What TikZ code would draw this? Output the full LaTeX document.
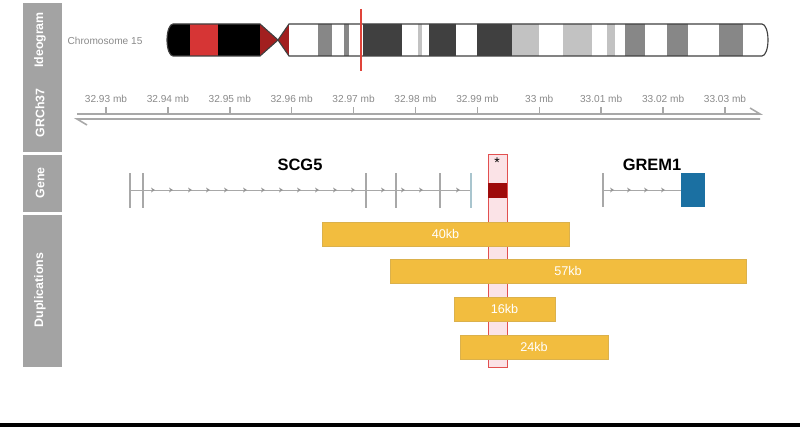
\documentclass[tikz,border=0pt]{standalone}
\usepackage{fontspec}
\setmainfont{Liberation Sans}
\usetikzlibrary{positioning}
\usepackage{xcolor}
\definecolor{panelgrey}{HTML}{A3A3A3}
\definecolor{axisgrey}{HTML}{A8A8A8}
\definecolor{textgrey}{HTML}{8A8A8A}
\definecolor{bandred}{HTML}{D63535}
\definecolor{cenred}{HTML}{A21F1F}
\definecolor{banddark}{HTML}{404040}
\definecolor{bandmid}{HTML}{878787}
\definecolor{bandlight}{HTML}{C2C2C2}
\definecolor{markred}{HTML}{E0443A}
\definecolor{hlpink}{HTML}{FBE3E7}
\definecolor{hlred}{HTML}{E25050}
\definecolor{exonred}{HTML}{9E0B0B}
\definecolor{gremblue}{HTML}{1B70A2}
\definecolor{lastexon}{HTML}{A9C5CE}
\definecolor{dupgold}{HTML}{F2BD3F}

\def\chrpath{(173,24) -- (260,24) -- (278,40) -- (260,56) -- (173,56)
  arc[start angle=90, end angle=270, x radius=6, y radius=16] -- cycle
  (289,24) -- (762,24) arc[start angle=-90, end angle=90, x radius=6, y radius=16]
  -- (289,56) -- (278,40) -- cycle}

\begin{document}
\begin{tikzpicture}[
        x=0.025cm, y=-0.025cm,
        panel/.style={fill=panelgrey, draw=none},
        panellbl/.style={rotate=90, text=white, inner sep=0pt,
          font=\fontsize{8.8}{10}\selectfont\bfseries},
        ticklbl/.style={text=textgrey, inner sep=0pt, font=\fontsize{7.2}{8}\selectfont},
        tickmk/.style={draw=axisgrey, line width=1.1pt},
        axisln/.style={draw=axisgrey, line width=1.1pt},
        intron/.style={draw=axisgrey, line width=0.6pt},
        chev/.style={fill=axisgrey!90!black, draw=none},
        exon/.style={draw=axisgrey, line width=2pt},
        genelbl/.style={inner sep=0pt, font=\fontsize{11.7}{13}\selectfont\bfseries},
        dup/.style={fill=dupgold, draw=dupgold!80!gray, line width=0.4pt},
        duplbl/.style={text=white, inner sep=0pt, font=\fontsize{9}{10}\selectfont},
      ]
      \useasboundingbox (0,0) rectangle (800,427);

      % === side panels ===
      \fill[panel] (23,3) rectangle (62,152);
      \fill[panel] (23,155) rectangle (62,212);
      \fill[panel] (23,215) rectangle (62,367);
      \node[panellbl] (pIdeo) at (40,40) {Ideogram};
      \node[panellbl] (pGrch) at (40,113) {GRCh37};
      \node[panellbl] (pGene) at (40,183) {Gene};
      \node[panellbl] (pDup) at (40,290) {Duplications};

      % === Ideogram ===
      \node[ticklbl] (chrlbl) at (105,41) {Chromosome 15};
      \begin{scope}
        \fill[white] \chrpath;
        \clip \chrpath;
        \foreach \a/\b/\c in {167/190/black, 190/218/bandred, 218/260/black,
            260/289/cenred, 318/332/bandmid, 344/349/bandmid, 363/402/banddark,
            418/422/bandlight, 429/456/banddark, 477/512/banddark,
            512/539/bandlight, 563/592/bandlight, 607/615/bandlight,
            625/645/bandmid, 667/688/bandmid, 719/743/bandmid} {
          \fill[\c] (\a,20) rectangle (\b,60);
        }
      \end{scope}
      \draw[banddark, line width=0.8pt] \chrpath;
      \draw[markred, line width=1.1pt] (361,9) -- (361,71);

      % === GRCh37 axis ===
      \foreach \i/\lbl in {0/32.93, 1/32.94, 2/32.95, 3/32.96, 4/32.97, 5/32.98,
          6/32.99, 7/33, 8/33.01, 9/33.02, 10/33.03} {
        \draw[tickmk] ({106+61.9*\i},107) -- ({106+61.9*\i},113);
        \node[ticklbl] (tk\i) at ({106+61.9*\i},99) {\lbl\ mb};
      }
      \draw[axisln] (77,114) -- (760,114) -- (750,108);
      \draw[axisln] (760,119) -- (77,119) -- (87,125);

      % === Gene ===
      \fill[hlpink] (488,154) rectangle (507,367);
      \draw[hlred, line width=0.7pt] (488,154) rectangle (507,367);
      \node[inner sep=0pt, font=\fontsize{10}{10}\selectfont] (star) at (497,163) {*};
      \fill[exonred] (488,183) rectangle (507,198);

      \node[genelbl] (scg5) at (300,165) {SCG5};
      \draw[intron] (130,190) -- (471,190);
      \foreach \x in {155,173,192,210,228,247,265,283,301,319,337,355,
          385,405,423,460} {
        \fill[chev] (\x-4,187.5) -- (\x,190) -- (\x-4,192.5) -- (\x-2.8,190) -- cycle;
      }
      \foreach \x in {130,143,366,396,440} {
        \draw[exon] (\x,173) -- (\x,208);
      }
      \draw[exon, lastexon] (471,173) -- (471,208);

      \node[genelbl] (grem1) at (652,165) {GREM1};
      \draw[intron] (603,190) -- (681,190);
      \foreach \x in {614,631,648,665} {
        \fill[chev] (\x-4,187.5) -- (\x,190) -- (\x-4,192.5) -- (\x-2.8,190) -- cycle;
      }
      \draw[exon] (603,173) -- (603,207);
      \fill[gremblue] (681,173) rectangle (705,207);

      % === Duplications ===
      \foreach \n/\a/\b/\t in {40/322/569/222, 57/390/746/259,
          16/454/555/297, 24/460/608/335} {
        \draw[dup] (\a,\t) rectangle (\b,\t+24);
        \node[duplbl] (dup\n) at ({(\a+\b)/2},\t+12) {\n kb};
      }

      % bottom rule
      \fill[black] (0,423) rectangle (800,427);
      \end{tikzpicture}
\end{document}
